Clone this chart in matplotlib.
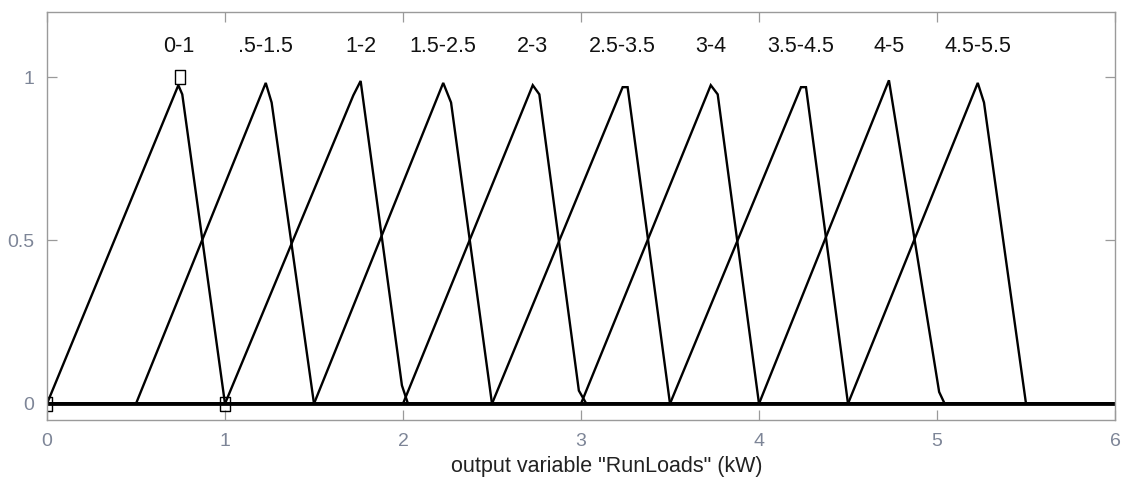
import matplotlib
matplotlib.use("Agg")
import matplotlib.pyplot as plt

plt.rcParams['font.family'] = ['Liberation Sans', 'DejaVu Sans']

# Membership function labels
labels = ["0-1", ".5-1.5", "1-2", "1.5-2.5", "2-3", "2.5-3.5", "3-4", "3.5-4.5", "4-5", "4.5-5.5"]

mf_x = [
    [0.0, 0.0, 0.738, 0.760, 1.0, 6.0],
    [0.0, 0.5, 1.229, 1.262, 1.5, 6.0],
    [0.0, 1.0, 1.721, 1.762, 1.994, 2.028, 6.0],
    [0.0, 1.5, 2.226, 2.270, 2.5, 6.0],
    [0.0, 2.0, 2.729, 2.766, 2.988, 3.030, 6.0],
    [0.0, 2.5, 3.234, 3.262, 3.5, 6.0],
    [0.0, 3.0, 3.729, 3.768, 4.0, 6.0],
    [0.0, 3.5, 4.236, 4.264, 4.5, 6.0],
    [0.0, 4.0, 4.730, 5.012, 5.043, 6.0],
    [0.0, 4.5, 5.229, 5.264, 5.5, 6.0],
]
mf_y = [
    [0.0, 0.0, 0.975, 0.947, 0.0, 0.0],
    [0.0, 0.0, 0.982, 0.922, 0.0, 0.0],
    [0.0, 0.0, 0.944, 0.988, 0.056, 0.0, 0.0],
    [0.0, 0.0, 0.982, 0.922, 0.0, 0.0],
    [0.0, 0.0, 0.975, 0.947, 0.040, 0.0, 0.0],
    [0.0, 0.0, 0.969, 0.969, 0.0, 0.0],
    [0.0, 0.0, 0.975, 0.947, 0.0, 0.0],
    [0.0, 0.0, 0.969, 0.969, 0.0, 0.0],
    [0.0, 0.0, 0.990, 0.036, 0.0, 0.0],
    [0.0, 0.0, 0.982, 0.922, 0.0, 0.0],
]
# Parameters of the selected function "0-1" (shown as small boxes)
sel_x = [0.0, 0.75, 1.0]
sel_y = [0.0, 1.0, 0.0]

x_ticks = [0, 1, 2, 3, 4, 5, 6]
y_ticks = [0, 0.5, 1]
y_ticklabels = ["0", "0.5", "1"]
x_label = 'output variable "RunLoads" (kW)'

fig = plt.figure(figsize=(11.24, 4.78), dpi=100)
ax = fig.add_axes([0.0418, 0.1213, 0.9502, 0.8542])

for xs, ys, lab in zip(mf_x, mf_y, labels):
    ax.plot(xs, ys, color='black', lw=1.7, solid_joinstyle='miter')
    k = max(range(len(ys)), key=lambda i: ys[i])
    ax.text(xs[k], 1.095, lab, ha='center', va='center', fontsize=15.5, color='#111111')

ax.axhline(0, color='black', lw=2.0)

box = [(-0.35, -0.5), (0.35, -0.5), (0.35, 0.5), (-0.35, 0.5), (-0.35, -0.5)]
ax.plot(sel_x, sel_y, linestyle='none', marker=box, markersize=9.5,
        markerfacecolor='none', markeredgecolor='black', markeredgewidth=1.0)

ax.set_xlim(0, 6)
ax.set_ylim(-0.05, 1.2)
ax.set_xticks(x_ticks)
ax.set_yticks(y_ticks)
ax.set_yticklabels(y_ticklabels)

gray = '#9a9a9a'
for s in ax.spines.values():
    s.set_color(gray)
    s.set_linewidth(1.0)
ax.tick_params(direction='in', length=7.5, width=0.9, color=gray,
               top=True, right=True, labelsize=14, labelcolor='#7d8597', pad=9)
ax.set_xlabel(x_label, fontsize=15.5, color='#222222', va='center')
ax.xaxis.set_label_coords(0.5245, -0.1127)

fig.savefig('out.png', dpi=100)
